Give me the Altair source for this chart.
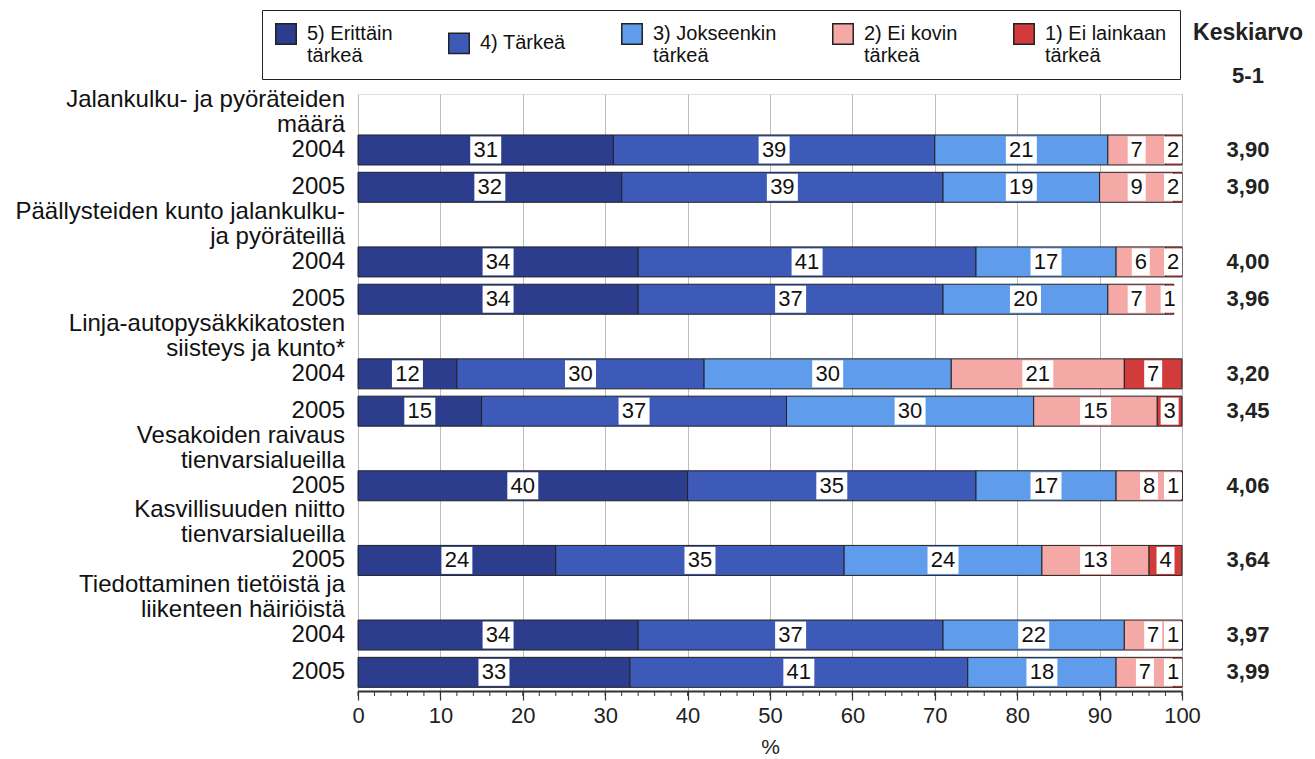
import altair as alt
import pandas as pd

# ---------------- data ----------------
group_titles = [
    "Jalankulku- ja pyöräteiden|määrä",
    "Päällysteiden kunto jalankulku-|ja pyöräteillä",
    "Linja-autopysäkkikatosten|siisteys ja kunto*",
    "Vesakoiden raivaus|tienvarsialueilla",
    "Kasvillisuuden niitto|tienvarsialueilla",
    "Tiedottaminen tietöistä ja|liikenteen häiriöistä",
]
row_group = [0, 0, 1, 1, 2, 2, 3, 4, 5, 5]
row_year = ["2004", "2005", "2004", "2005", "2004", "2005", "2005", "2005", "2004", "2005"]

v5 = [31, 32, 34, 34, 12, 15, 40, 24, 34, 33]
v4 = [39, 39, 41, 37, 30, 37, 35, 35, 37, 41]
v3 = [21, 19, 17, 20, 30, 30, 17, 24, 22, 18]
v2 = [7, 9, 6, 7, 21, 15, 8, 13, 7, 7]
v1 = [2, 2, 2, 1, 7, 3, 1, 4, 1, 1]
means = ["3,90", "3,90", "4,00", "3,96", "3,20", "3,45", "4,06", "3,64", "3,97", "3,99"]

categories = ["5) Erittäin|tärkeä", "4) Tärkeä", "3) Jokseenkin|tärkeä",
              "2) Ei kovin|tärkeä", "1) Ei lainkaan|tärkeä"]
colors = ["#2b3d8c", "#3d5ab8", "#5f9dec", "#f4a9a7", "#d23b3b"]

x_ticks = list(range(0, 101, 10))
minor_ticks = list(range(0, 101, 2))

mean_header = ["Keskiarvo", "5-1"]

# ---------------- layout ----------------
W, H = 824, 597
FONT = "Liberation Sans"

# slots: one empty slot before each group for its title lines
slots = []
s = -1
prev = None
for g in row_group:
    if g != prev:
        s += 1
    s += 1
    slots.append(s)
    prev = g
n_slots = s + 1

values = [v5, v4, v3, v2, v1]
bar_rows = []
for i, sl in enumerate(slots):
    for k, cat in enumerate(categories):
        bar_rows.append(dict(slot=sl, cat=cat, order=k, value=values[k][i],
                             txt=str(values[k][i])))
bars_df = pd.DataFrame(bar_rows)

line_rows = []
prev = None
for i, sl in enumerate(slots):
    lines = [row_year[i]]
    if row_group[i] != prev:
        lines += list(reversed(group_titles[row_group[i]].split("|")))
    for k, t in enumerate(lines):
        line_rows.append(dict(slot=sl, line=k, text=t))
    prev = row_group[i]
lines_df = pd.DataFrame(line_rows)

means_df = pd.DataFrame(dict(slot=slots, mean=means))

# ---------------- encodings ----------------
xscale = alt.Scale(domain=[0, 100], nice=False, zero=True)
xaxis = alt.Axis(values=x_ticks, grid=True, gridColor="#bdbdbd", gridWidth=1,
                 tickSize=9, tickColor="#333333", tickWidth=1.2,
                 domainColor="#333333", domainWidth=2, labelFlush=False,
                 labelFontSize=22, labelFont=FONT, labelColor="#222222",
                 labelPadding=5, title="%", titleFontSize=21, titleFont=FONT,
                 titleFontWeight="normal", titleColor="#222222", titlePadding=10)
Y = alt.Y("slot:O", scale=alt.Scale(domain=list(range(n_slots)),
                                    paddingInner=0, paddingOuter=0), axis=None)

base = (
    alt.Chart(bars_df)
    .transform_stack(stack="value", groupby=["slot"],
                     sort=[alt.SortField("order", order="ascending")],
                     as_=["x0", "x1"])
    .transform_calculate(x0c="min(datum.x0, 100)", x1c="min(datum.x1, 100)")
)

bars = base.mark_bar(size=30, stroke="#222222", strokeWidth=1).encode(
    x=alt.X("x0c:Q", scale=xscale, axis=xaxis),
    x2="x1c:Q",
    y=Y,
    color=alt.Color(
        "cat:N",
        scale=alt.Scale(domain=categories, range=colors),
        sort=categories,
        legend=alt.Legend(
            title=None, orient="none", legendX=-96, legendY=-84,
            direction="horizontal", columns=5, columnPadding=52,
            symbolType="square", symbolSize=420, symbolStrokeColor="#222222",
            symbolStrokeWidth=1.5, labelFontSize=20, labelFont=FONT,
            labelColor="#111111", labelOffset=10, labelLimit=300,
            labelExpr="split(datum.label, '|')",
            strokeColor="#222222", fillColor="white", padding=13,
        ),
    ),
)

lab = base.transform_calculate(
    half="(length(datum.txt) * 13 + 5) * 50 / 824",
    mid="min((datum.x0c + datum.x1c) / 2, 100 - datum.half)",
    b0="datum.mid - datum.half",
    b1="datum.mid + datum.half",
)
boxes = lab.mark_bar(size=27, color="white").encode(
    x=alt.X("b0:Q", scale=xscale, axis=xaxis), x2="b1:Q", y=Y)
texts = lab.mark_text(fontSize=22, font=FONT, color="#111111").encode(
    x=alt.X("mid:Q", scale=xscale, axis=xaxis), y=Y, text="txt:N")

minor = alt.Chart(pd.DataFrame(dict(t=minor_ticks))).mark_rule(
    color="#333333", strokeWidth=1).encode(
    x=alt.X("t:Q", scale=xscale, axis=xaxis), y=alt.value(H), y2=alt.value(H + 5))

ylabel_layers = []
for k in range(3):
    ylabel_layers.append(
        alt.Chart(lines_df).transform_filter(f"datum.line == {k}")
        .mark_text(align="right", baseline="middle", dy=-25 * k, fontSize=24,
                   font=FONT, color="#111111")
        .encode(x=alt.value(-13), y=Y, text="text:N")
    )

mean_text = alt.Chart(means_df).mark_text(
    fontSize=22, fontWeight="bold", font=FONT, color="#222222").encode(
    x=alt.value(W + 66), y=Y, text="mean:N")

hdr1 = alt.Chart(pd.DataFrame(dict(t=[mean_header[0]]))).mark_text(
    fontSize=23, fontWeight="bold", font=FONT, color="#222222").encode(
    x=alt.value(W + 66), y=alt.value(-61), text="t:N")
hdr2 = alt.Chart(pd.DataFrame(dict(t=[mean_header[1]]))).mark_text(
    fontSize=22, fontWeight="bold", font=FONT, color="#222222").encode(
    x=alt.value(W + 66), y=alt.value(-18), text="t:N")

chart = alt.layer(
    bars, boxes, texts, minor, *ylabel_layers, mean_text, hdr1, hdr2
).properties(
    width=W, height=H,
    padding={"left": 7, "top": 1, "right": 0, "bottom": 0},
).configure_view(stroke="#333333", strokeWidth=1.5).configure(background="white")

chart.save("out.html", embed_options={"renderer": "svg", "actions": False})
